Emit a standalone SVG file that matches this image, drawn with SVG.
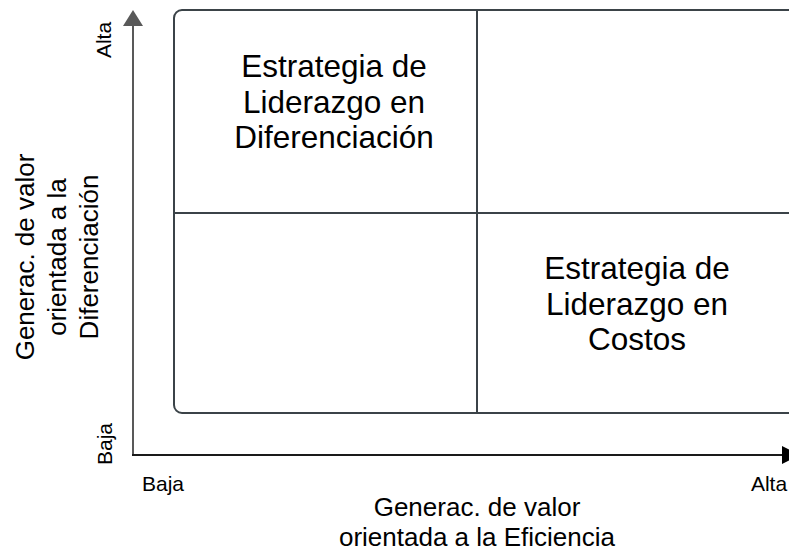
<svg xmlns="http://www.w3.org/2000/svg" width="789" height="552" viewBox="0 0 789 552">
<style>
text{font-family:"Liberation Sans",Arial,sans-serif;fill:#000;text-anchor:middle}
.q{font-size:31.5px}
.t{font-size:26px}
.s{font-size:21px}
.box{fill:none;stroke:#3b4348;stroke-width:2}
</style>
<rect width="789" height="552" fill="#fff"/>
<g id="matrix">
<rect class="box" x="174" y="10" width="660" height="403" rx="8" ry="8"/>
<line class="box" x1="477" y1="10" x2="477" y2="413"/>
<line class="box" x1="174" y1="213" x2="834" y2="213"/>
</g>
<g id="connectors">
<line x1="133" y1="455" x2="133" y2="25" stroke="#595959" stroke-width="2"/>
<path d="M123,26L133,10L143,26Z" fill="#595959"/>
<line x1="132" y1="455" x2="783" y2="455" stroke="#1a1a1a" stroke-width="2"/>
<path d="M782,446L800,455L782,464Z" fill="#000"/>
</g>
<g id="q1">
<text class="q" x="334" y="77">Estrategia de</text>
<text class="q" x="334" y="112.5">Liderazgo en</text>
<text class="q" x="334" y="148">Diferenciación</text>
</g>
<g id="q4">
<text class="q" x="637" y="279">Estrategia de</text>
<text class="q" x="637" y="314.5">Liderazgo en</text>
<text class="q" x="637" y="350">Costos</text>
</g>
<g id="labels">
<text class="s" transform="translate(111,40) rotate(-90)">Alta</text>
<text class="s" transform="translate(112,444) rotate(-90)">Baja</text>
<text class="s" x="163" y="491">Baja</text>
<text class="s" x="769" y="491">Alta</text>
</g>
<g id="xtitle">
<text class="t" x="477" y="516">Generac. de valor</text>
<text class="t" x="477" y="546">orientada a la Eficiencia</text>
</g>
<g id="ytitle" transform="translate(0,257) rotate(-90)">
<text class="t" x="0" y="34">Generac. de valor</text>
<text class="t" x="0" y="66">orientada a la</text>
<text class="t" x="0" y="98">Diferenciación</text>
</g>
</svg>
